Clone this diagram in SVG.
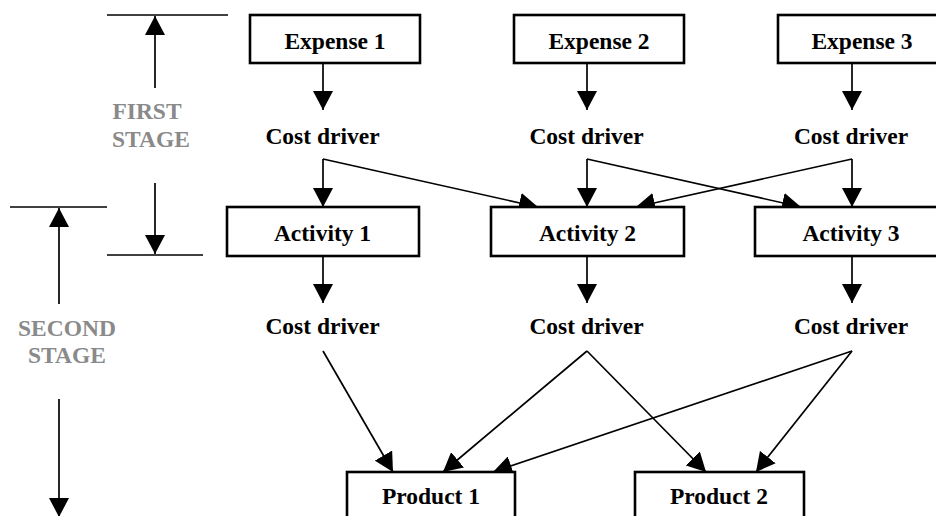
<svg xmlns="http://www.w3.org/2000/svg" width="936" height="516" viewBox="0 0 936 516">
<style>
.box{fill:#fff;stroke:#000;stroke-width:2.6}
.t{font-family:'Liberation Serif',Tinos,'Times New Roman','DejaVu Serif',serif;font-weight:700;font-size:23.5px;fill:#000;text-anchor:middle}
.stage{font-family:'Liberation Serif',Tinos,'Times New Roman','DejaVu Serif',serif;font-weight:700;font-size:23.5px;fill:#8a8a8a;text-anchor:middle}
.c{fill:none;stroke:#000;stroke-width:1.7;marker-end:url(#ah)}
.r{fill:none;stroke:#000;stroke-width:1.7}
</style>
<defs>
<marker id="ah" viewBox="0 0 19 20" markerWidth="19" markerHeight="20" refX="19" refY="10" orient="auto" markerUnits="userSpaceOnUse">
<path d="M0,0 L19,10 L0,20 Z" fill="#000"/>
</marker>
</defs>
<rect width="936" height="516" fill="#fff"/>
<g id="stages">
<line class="r" x1="107" y1="15" x2="228" y2="15"/>
<line class="c" x1="155" y1="88" x2="155" y2="16"/>
<text class="stage" x="147" y="119">FIRST</text>
<text class="stage" x="151" y="147">STAGE</text>
<line class="c" x1="155" y1="183" x2="155" y2="254"/>
<line class="r" x1="107" y1="255" x2="203" y2="255"/>
<line class="r" x1="10" y1="207" x2="107" y2="207"/>
<line class="c" x1="59" y1="304" x2="59" y2="208"/>
<text class="stage" x="67" y="336">SECOND</text>
<text class="stage" x="67" y="363">STAGE</text>
<line class="c" x1="59" y1="399" x2="59" y2="517"/>
</g>
<g id="connectors">
<line class="c" x1="323" y1="63" x2="323" y2="110"/>
<line class="c" x1="587" y1="63" x2="587" y2="110"/>
<line class="c" x1="852" y1="63" x2="852" y2="110"/>
<line class="c" x1="323" y1="159" x2="323" y2="207"/>
<line class="c" x1="323" y1="159" x2="538" y2="207"/>
<line class="c" x1="587" y1="159" x2="587" y2="207"/>
<line class="c" x1="587" y1="159" x2="801" y2="207"/>
<line class="c" x1="852" y1="159" x2="852" y2="207"/>
<line class="c" x1="852" y1="159" x2="636" y2="207"/>
<line class="c" x1="323" y1="256" x2="323" y2="303"/>
<line class="c" x1="587" y1="256" x2="587" y2="303"/>
<line class="c" x1="852" y1="256" x2="852" y2="303"/>
<line class="c" x1="323" y1="351" x2="393" y2="472"/>
<line class="c" x1="587" y1="351" x2="443" y2="472"/>
<line class="c" x1="587" y1="351" x2="706" y2="472"/>
<line class="c" x1="852" y1="351" x2="493" y2="472"/>
<line class="c" x1="852" y1="351" x2="756" y2="472"/>
</g>
<g id="expense1"><rect class="box" x="250" y="15" width="170" height="48"/><text class="t" x="335" y="49">Expense 1</text></g>
<g id="expense2"><rect class="box" x="514" y="15" width="170" height="48"/><text class="t" x="599" y="49">Expense 2</text></g>
<g id="expense3"><rect class="box" x="778" y="15" width="172" height="48"/><text class="t" x="862" y="49">Expense 3</text></g>
<g id="driver1a"><text class="t" x="322.5" y="144">Cost driver</text></g>
<g id="driver2a"><text class="t" x="586.5" y="144">Cost driver</text></g>
<g id="driver3a"><text class="t" x="851" y="144">Cost driver</text></g>
<g id="activity1"><rect class="box" x="227" y="207" width="192" height="49"/><text class="t" x="322.5" y="241">Activity 1</text></g>
<g id="activity2"><rect class="box" x="491" y="207" width="193" height="49"/><text class="t" x="587.5" y="241">Activity 2</text></g>
<g id="activity3"><rect class="box" x="755" y="207" width="195" height="49"/><text class="t" x="851" y="241">Activity 3</text></g>
<g id="driver1b"><text class="t" x="322.5" y="334">Cost driver</text></g>
<g id="driver2b"><text class="t" x="586.5" y="334">Cost driver</text></g>
<g id="driver3b"><text class="t" x="851" y="334">Cost driver</text></g>
<g id="product1"><rect class="box" x="347" y="472" width="168" height="60"/><text class="t" x="431" y="504">Product 1</text></g>
<g id="product2"><rect class="box" x="635" y="472" width="169" height="60"/><text class="t" x="719" y="504">Product 2</text></g>
</svg>
